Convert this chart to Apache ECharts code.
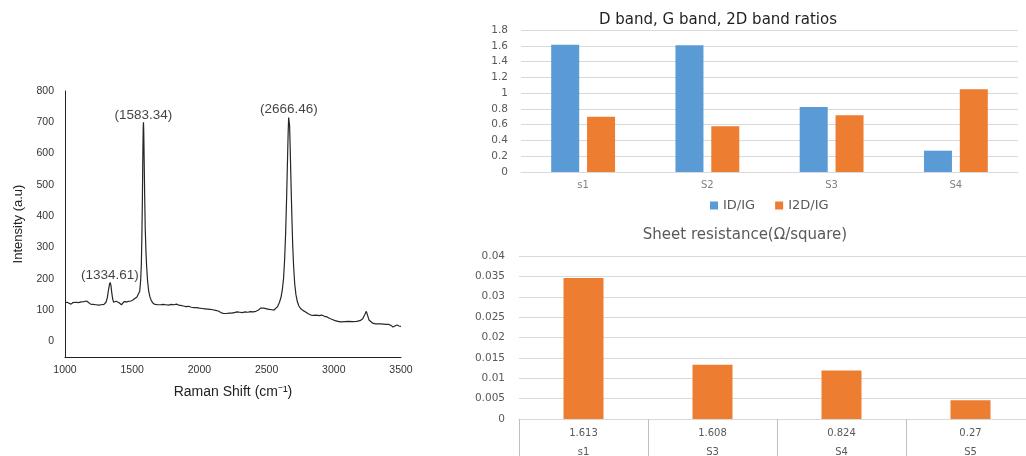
<!DOCTYPE html>
<html>
<head>
<meta charset="utf-8">
<script src="https://cdn.jsdelivr.net/npm/echarts@6/dist/echarts.min.js"></script>
<style>
html,body{margin:0;padding:0;background:#fff;}
#c{width:1026px;height:456px;}
</style>
</head>
<body>
<div id="c"></div>
<script>
// ---- Raman spectrum (left) ----
const ramanShift = [1000,1015,1030,1045,1060,1080,1100,1120,1140,1160,1175,1190,1210,1230,1250,1270,1290,1305,1315,1322,1330,1336,1342,1348,1355,1362,1370,1380,1390,1400,1410,1420,1430,1440,1450,1460,1475,1490,1505,1520,1535,1548,1556,1563,1568,1572,1576,1579,1582,1584,1586,1589,1593,1597,1602,1608,1615,1623,1632,1642,1655,1670,1690,1710,1730,1750,1770,1790,1810,1830,1845,1860,1880,1900,1920,1940,1960,1980,2000,2020,2040,2060,2080,2100,2120,2140,2160,2180,2200,2220,2240,2260,2280,2300,2320,2340,2360,2380,2400,2420,2440,2455,2468,2480,2500,2520,2540,2555,2565,2580,2595,2607,2617,2626,2634,2642,2649,2655,2660,2664,2667,2671,2676,2682,2688,2694,2701,2709,2718,2728,2740,2755,2770,2790,2810,2830,2850,2870,2890,2910,2930,2950,2970,2990,3010,3030,3050,3080,3110,3140,3170,3195,3215,3230,3242,3252,3262,3275,3290,3310,3330,3350,3370,3390,3410,3425,3440,3455,3470,3485,3500];
const intensity = [124,125,122,119,124,125,124,126,127,129,124,119,118,117,116,117,118,125,140,160,180,188,178,155,135,125,124,128,122,124,119,117,121,127,125,126,128,129,132,137,142,148,160,195,245,335,460,590,685,700,670,580,460,360,290,235,190,160,142,130,122,118,117,117,118,117,116,118,117,119,116,115,113,111,112,109,108,108,106,105,104,103,102,101,99,97,92,89,89,90,90,92,94,93,92,94,93,95,94,96,100,106,111,106,104,102,101,100,102,110,124,140,165,200,260,350,460,570,660,715,720,690,610,500,400,310,240,185,150,128,113,104,99,94,88,84,83,84,82,84,80,78,73,70,66,64,62,63,64,63,64,66,72,85,96,82,68,62,58,56,56,56,55,54,54,51,46,49,52,49,48];
const peakShift = [1334.61, 1583.34, 2666.46];
const peakIntensity = [188, 700, 720];
const peakLabels = ['(1334.61)', '(1583.34)', '(2666.46)'];
const ramanYTicks = [0,100,200,300,400,500,600,700,800];

// ---- Band ratios (top right) ----
const ratioCategories = ['s1', 'S2', 'S3', 'S4'];
const idIg = [1.613, 1.608, 0.824, 0.27];
const i2dIg = [0.70, 0.58, 0.72, 1.05];

// ---- Sheet resistance (bottom right) ----
const sheetCategories = ['s1', 'S3', 'S4', 'S5'];
const sheetTableRow = ['1.613', '1.608', '0.824', '0.27'];
const sheetResistance = [0.0346, 0.0133, 0.0119, 0.0046];

const chart = echarts.init(document.getElementById('c'));
const LS = 'Liberation Sans';
const DJ = 'DejaVu Sans';
const grey = '#595959';
const gridCol = '#D9D9D9';

const option = {
  animation: false,
  backgroundColor: '#fff',
  title: [
    { text: 'D band, G band, 2D band ratios', left: 713, top: 8, textAlign: 'center',
      textStyle: { fontFamily: DJ, fontSize: 15, fontWeight: 'normal', color: '#1f1f1f' } },
    { text: 'Sheet resistance(Ω/square)', left: 740, top: 223, textAlign: 'center',
      textStyle: { fontFamily: DJ, fontSize: 15, fontWeight: 'normal', color: grey } }
  ],
  legend: {
    data: ['ID/IG', 'I2D/IG'], left: 705, top: 194, icon: 'rect', itemWidth: 8, itemHeight: 8, itemGap: 20,
    textStyle: { fontFamily: DJ, fontSize: 13, color: grey }
  },
  grid: [
    { left: 65, top: 91, width: 336, height: 266, outerBoundsMode: 'none', containLabel: false },
    { left: 521, top: 30, width: 497, height: 142, outerBoundsMode: 'none', containLabel: false },
    { left: 519, top: 256, width: 516, height: 163, outerBoundsMode: 'none', containLabel: false }
  ],
  xAxis: [
    { gridIndex: 0, type: 'value', min: 1000, max: 3500, interval: 500,
      name: 'Raman Shift (cm⁻¹)', nameLocation: 'middle', nameGap: 28,
      nameTextStyle: { fontFamily: LS, fontSize: 14, color: '#222' },
      axisLine: { onZero: false, lineStyle: { color: '#222', width: 1 } },
      axisTick: { show: false }, splitLine: { show: false },
      axisLabel: { fontFamily: LS, fontSize: 10.5, color: '#333', margin: 8, formatter: v => String(v) } },
    { gridIndex: 1, type: 'category', data: ratioCategories,
      axisLine: { lineStyle: { color: gridCol } }, axisTick: { show: false },
      axisLabel: { fontFamily: DJ, fontSize: 10, color: '#7f7f7f', margin: 8 } },
    { gridIndex: 2, type: 'category', data: sheetCategories,
      axisLine: { lineStyle: { color: gridCol } },
      axisTick: { show: true, interval: 0, length: 45, lineStyle: { color: '#BFBFBF' } },
      axisLabel: { fontFamily: DJ, fontSize: 10, color: grey, margin: 5, lineHeight: 19, interval: 0,
        formatter: (v, i) => sheetTableRow[i] + '\n' + v } }
  ],
  yAxis: [
    { gridIndex: 0, type: 'value', min: -50, max: 800,
      name: 'Intensity (a.u)', nameLocation: 'middle', nameGap: 40,
      nameTextStyle: { fontFamily: LS, fontSize: 13, color: '#222' },
      axisLine: { show: true, onZero: false, lineStyle: { color: '#222', width: 1 } },
      axisTick: { show: false }, splitLine: { show: false },
      axisLabel: { fontFamily: LS, fontSize: 10.5, color: '#333', margin: 11, customValues: ramanYTicks } },
    { gridIndex: 1, type: 'value', min: 0, max: 1.8, interval: 0.2,
      axisLine: { show: false }, axisTick: { show: false },
      splitLine: { lineStyle: { color: gridCol, width: 1 } },
      axisLabel: { fontFamily: DJ, fontSize: 10.5, color: grey, margin: 13,
        formatter: v => String(Math.round(v * 10) / 10) } },
    { gridIndex: 2, type: 'value', min: 0, max: 0.04, interval: 0.005,
      axisLine: { show: false }, axisTick: { show: false },
      splitLine: { lineStyle: { color: gridCol, width: 1 } },
      axisLabel: { fontFamily: DJ, fontSize: 10.5, color: grey, margin: 14,
        formatter: v => String(Math.round(v * 1000) / 1000) } }
  ],
  series: [
    { type: 'line', xAxisIndex: 0, yAxisIndex: 0, showSymbol: false, smooth: false,
      lineStyle: { color: '#262626', width: 1.2 },
      data: ramanShift.map((x, i) => [x, intensity[i]]) },
    { type: 'scatter', xAxisIndex: 0, yAxisIndex: 0, symbolSize: 0, silent: true,
      label: { show: true, position: 'top', distance: 0, fontFamily: LS, fontSize: 13.5, color: '#111',
        formatter: p => peakLabels[p.dataIndex] },
      data: peakShift.map((x, i) => [x, peakIntensity[i]]) },
    { name: 'ID/IG', type: 'bar', xAxisIndex: 1, yAxisIndex: 1, barWidth: 28, barGap: '28%',
      itemStyle: { color: '#5B9BD5' }, data: idIg },
    { name: 'I2D/IG', type: 'bar', xAxisIndex: 1, yAxisIndex: 1, barWidth: 28, barGap: '28%',
      itemStyle: { color: '#ED7D31' }, data: i2dIg },
    { type: 'bar', xAxisIndex: 2, yAxisIndex: 2, barWidth: 40,
      itemStyle: { color: '#ED7D31' }, data: sheetResistance }
  ]
};
chart.setOption(option);
</script>
</body>
</html>
